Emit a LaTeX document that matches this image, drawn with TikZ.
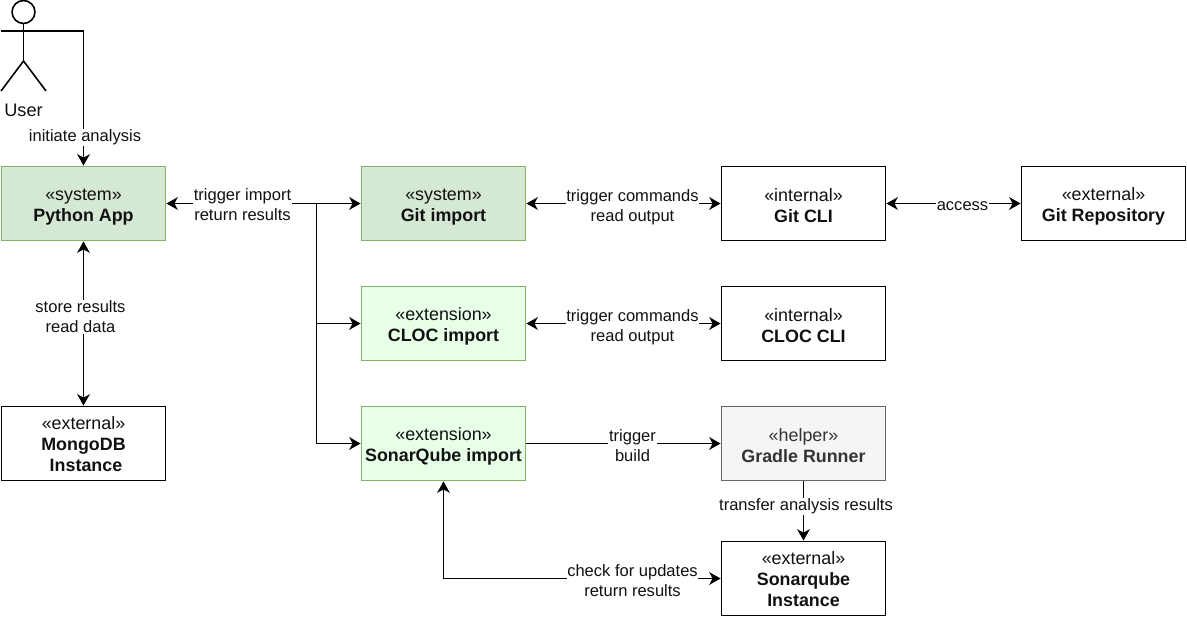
\documentclass[tikz,border=0pt]{standalone}
\usepackage{fontspec}
\setmainfont{Liberation Sans}
\usetikzlibrary{arrows.meta}
\definecolor{sysfill}{HTML}{D5E8D4}
\definecolor{sysline}{HTML}{82B366}
\definecolor{extfill}{HTML}{E8FFE8}
\definecolor{helpfill}{HTML}{F5F5F5}
\definecolor{helpline}{HTML}{666666}
\definecolor{helptext}{HTML}{333333}
\definecolor{txt}{HTML}{111111}
\newcommand{\lift}{\rule{0pt}{13.6pt}}
\newcommand{\liftsmall}{\rule{0pt}{11.2pt}}
\tikzset{
  x=0.75pt,y=-0.75pt,
  mytip/.tip={Stealth[length=8.5pt,width=9.5pt,inset=2.5pt]},
  box/.style={minimum width=123pt,minimum height=55.5pt,inner sep=0pt,align=center,line width=1.4pt,font=\fontsize{13.4}{15.75}\selectfont,text=txt},
  plainbox/.style={box,draw=black,fill=white},
  sysbox/.style={box,draw=sysline,fill=sysfill},
  extbox/.style={box,draw=sysline,fill=extfill},
  helpbox/.style={box,draw=helpline,fill=helpfill,text=helptext},
  conn/.style={draw=black,line width=1.4pt,mytip-mytip},
  oneway/.style={draw=black,line width=1.4pt,-mytip},
  lbl/.style={fill=white,inner sep=0.5pt,align=center,font=\fontsize{12.4}{15}\selectfont,text=txt},
}
\begin{document}
\begin{tikzpicture}
\useasboundingbox (0,0) rectangle (1187,617);
\fill[white] (0,0) rectangle (1187,617);
% boxes
\node[sysbox] (python) at (83.5,203.5) {\lift«system»\\\textbf{Python App}};
\node[sysbox] (git) at (443.5,203.5) {\lift«system»\\\textbf{Git import}};
\node[plainbox] (gitcli) at (803.5,203.5) {\lift«internal»\\\textbf{Git CLI}};
\node[plainbox] (gitrepo) at (1103.5,203.5) {\lift«external»\\\textbf{Git Repository}};
\node[extbox] (cloc) at (443.5,323.5) {\lift«extension»\\\textbf{CLOC import}};
\node[plainbox] (cloccli) at (803.5,323.5) {\lift«internal»\\\textbf{CLOC CLI}};
\node[extbox] (sonar) at (443.5,443.5) {\lift«extension»\\\textbf{SonarQube import}};
\node[helpbox] (gradle) at (803.5,443.5) {\lift«helper»\\\textbf{Gradle Runner}};
\node[plainbox] (sqinst) at (803.5,578.5) {\liftsmall«external»\\\textbf{Sonarqube}\\\textbf{Instance}};
\node[plainbox] (mongo) at (83.5,443.5) {\liftsmall«external»\\\textbf{MongoDB}\\\textbf{ Instance}};
% actor
\coordinate (armL) at (1,30.6);
\coordinate (armR) at (46,30.6);
\coordinate (neck) at (23.5,23.5);
\coordinate (hip) at (23.5,61);
\coordinate (footL) at (1,91);
\coordinate (footR) at (46,91);
\draw[line width=1.2pt] (23.5,12) circle[radius=8.6pt];
\draw[line width=1.4pt] (neck) -- (hip);
\draw[line width=1.4pt] (armL) -- (armR);
\draw[line width=1.2pt] (footL) -- (hip) -- (footR);
\node[font=\fontsize{13.6}{15}\selectfont,text=txt,inner sep=0pt] (user) at (23.5,110.5) {User};
% connectors
\coordinate (branch) at (316.5,203.5);
\coordinate (branchB) at (316.5,323.5);
\draw[oneway] (armR) -- (83.5,30.6) -- (python.north);
\draw[conn] (python.east) -- (git.west);
\draw[oneway] (branch) |- (cloc.west);
\draw[oneway] (branchB) |- (sonar.west);
\draw[conn] (python.south) -- (mongo.north);
\draw[conn] (git.east) -- (gitcli.west);
\draw[conn] (gitcli.east) -- (gitrepo.west);
\draw[conn] (cloc.east) -- (cloccli.west);
\draw[oneway] (sonar.east) -- (gradle.west);
\draw[oneway] (gradle.south) -- (sqinst.north);
\draw[conn] (sonar.south) |- (sqinst.west);
% labels
\node[lbl] (l1) at (85,137.2) {initiate analysis};
\node[lbl] (l2) at (242.5,205) {trigger import\\return results};
\node[lbl] (l3) at (80.5,316.8) {store results\\read data};
\node[lbl] (l4) at (632.5,207.3) {trigger commands\\read output};
\node[lbl] (l5) at (962.5,206) {access};
\node[lbl] (l6) at (632.5,327.3) {trigger commands\\read output};
\node[lbl] (l7) at (632.5,445.8) {trigger\\build};
\node[lbl] (l8) at (806,506.3) {transfer analysis results};
\node[lbl] (l9) at (632.5,580.8) {check for updates\\return results};
\end{tikzpicture}
\end{document}
